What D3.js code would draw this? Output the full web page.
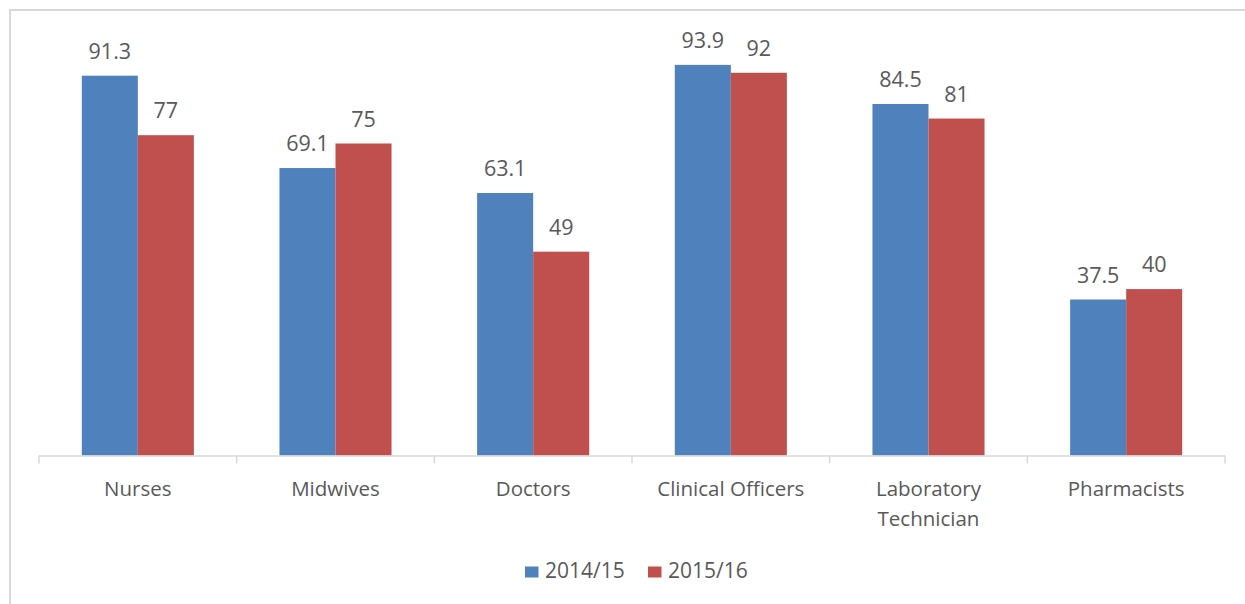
<!DOCTYPE html>
<html>
<head>
<meta charset="utf-8">
<script src="https://cdnjs.cloudflare.com/ajax/libs/d3/7.8.5/d3.min.js"></script>
<style>
  body { margin: 0; background: #fff; }
  text { font-family: "Open Sans", "Noto Sans", sans-serif; fill: #595959; }
</style>
</head>
<body>
<svg id="chart" width="1245" height="604"></svg>
<script>
var categories = ["Nurses", "Midwives", "Doctors", "Clinical Officers", "Laboratory Technician", "Pharmacists"]
var categoryLines = [["Nurses"], ["Midwives"], ["Doctors"], ["Clinical Officers"], ["Laboratory", "Technician"], ["Pharmacists"]]
var seriesNames = ["2014/15", "2015/16"]
var values2014 = [91.3, 69.1, 63.1, 93.9, 84.5, 37.5]
var values2015 = [77, 75, 49, 92, 81, 40]
var colors = ["#4F81BD", "#C0504D"]

var svg = d3.select("#chart")

// chart area border (right/bottom edges are off the picture)
svg.append("rect")
  .attr("x", 10)
  .attr("y", 10)
  .attr("width", 1260)
  .attr("height", 620)
  .attr("fill", "#fff")
  .attr("stroke", "#D9D9D9")
  .attr("stroke-width", 2)

var plotLeft = 39, plotRight = 1225, plotTop = 39.5, plotBottom = 455.5

var x0 = d3.scaleBand()
  .domain(categories)
  .range([plotLeft, plotRight])
  .paddingInner(0.433)
  .paddingOuter(0.2165)

var x1 = d3.scaleBand()
  .domain(seriesNames)
  .range([0, x0.bandwidth()])

var y = d3.scaleLinear()
  .domain([0, 100])
  .range([plotBottom, plotTop])

var rows = categories.map(function (c, i) {
  return { cat: c, vals: [values2014[i], values2015[i]] }
})

var groups = svg.selectAll(".grp").data(rows)
  .enter().append("g")
  .attr("class", "grp")
  .attr("transform", function (d) { return "translate(" + x0(d.cat) + ",0)" })

groups.selectAll("rect")
  .data(function (d) {
    return d.vals.map(function (v, j) { return { s: seriesNames[j], v: v, j: j } })
  })
  .enter().append("rect")
  .attr("x", function (d) { return x1(d.s) })
  .attr("y", function (d) { return y(d.v) })
  .attr("width", x1.bandwidth())
  .attr("height", function (d) { return plotBottom - y(d.v) })
  .attr("fill", function (d) { return colors[d.j] })

groups.selectAll(".lbl")
  .data(function (d) {
    return d.vals.map(function (v, j) { return { s: seriesNames[j], v: v } })
  })
  .enter().append("text")
  .attr("class", "lbl")
  .attr("x", function (d) { return x1(d.s) + x1.bandwidth() / 2 })
  .attr("y", function (d) { return y(d.v) - 17 })
  .attr("text-anchor", "middle")
  .style("font-size", "21.5px")
  .text(function (d) { return d.v })

// category axis: baseline with tick marks between categories
var step = x0.step()
var tickPos = d3.range(categories.length + 1).map(function (i) { return plotLeft + i * step })

svg.append("line")
  .attr("x1", plotLeft).attr("x2", plotRight)
  .attr("y1", plotBottom + 0.5).attr("y2", plotBottom + 0.5)
  .attr("stroke", "#D9D9D9")
  .attr("stroke-width", 1.5)

svg.selectAll(".tick").data(tickPos)
  .enter().append("line")
  .attr("class", "tick")
  .attr("x1", function (d) { return d }).attr("x2", function (d) { return d })
  .attr("y1", plotBottom).attr("y2", plotBottom + 8)
  .attr("stroke", "#D9D9D9")
  .attr("stroke-width", 1.5)

var catLabels = svg.selectAll(".cat").data(categoryLines)
  .enter().append("text")
  .attr("class", "cat")
  .attr("text-anchor", "middle")
  .style("font-size", "20.5px")
  .attr("transform", function (d, i) {
    return "translate(" + (x0(categories[i]) + x0.bandwidth() / 2) + ",496)"
  })

catLabels.selectAll("tspan")
  .data(function (d) { return d })
  .enter().append("tspan")
  .attr("x", 0)
  .attr("y", function (d, i) { return i * 29.7 })
  .text(function (d) { return d })

// legend
var legendItems = [{ name: seriesNames[0], x: 525 }, { name: seriesNames[1], x: 648 }]

var legend = svg.selectAll(".leg").data(legendItems)
  .enter().append("g")
  .attr("class", "leg")
  .attr("transform", function (d) { return "translate(" + d.x + ",0)" })

legend.append("rect")
  .attr("x", 0)
  .attr("y", 566.5)
  .attr("width", 13.5)
  .attr("height", 11)
  .attr("fill", function (d, i) { return colors[i] })

legend.append("text")
  .attr("x", 20)
  .attr("y", 577.7)
  .style("font-size", "21px")
  .text(function (d) { return d.name })
</script>
</body>
</html>
